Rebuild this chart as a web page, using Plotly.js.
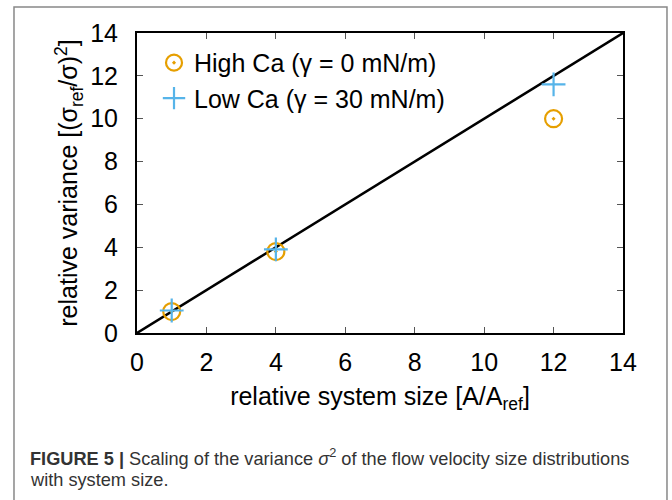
<!DOCTYPE html>
<html>
<head>
<meta charset="utf-8">
<script src="https://cdn.plot.ly/plotly-3.0.1.min.js"></script>
<style>html,body{margin:0;padding:0;background:#fff;}#chart{width:672px;height:500px;}</style>
</head>
<body>
<div id="chart"></div>
<script>
// Data
const systemSize = [1, 4, 12];
const highCaVariance = [1.0, 3.8, 10.0];
const lowCaVariance = [1.05, 3.9, 11.6];
const refLineX = [0, 14];
const refLineY = [0, 14];
const tickVals = [0, 2, 4, 6, 8, 10, 12, 14];
const seriesNames = ["High Ca (γ = 0 mN/m)", "Low Ca (γ = 30 mN/m)"];

const font = "Liberation Sans, Arial, sans-serif";

const traces = [
  {x: refLineX, y: refLineY, mode: "lines", line: {color: "#000", width: 2.5}, showlegend: false, hoverinfo: "skip"},
  {x: systemSize, y: highCaVariance, mode: "markers", name: seriesNames[0],
   marker: {symbol: "circle-open-dot", size: 17, color: "#E69F00", line: {width: 2.2, color: "#E69F00"}}},
  {x: systemSize, y: lowCaVariance, mode: "markers", name: seriesNames[1],
   marker: {symbol: "cross-thin-open", size: 17, color: "#56B4E9", line: {width: 2.2, color: "#56B4E9"}}}
];

const axisCommon = {
  range: [0, 14], tickvals: tickVals, ticks: "inside", ticklen: 6, tickwidth: 1, tickcolor: "#555",
  showline: true, linecolor: "#000", linewidth: 2, mirror: "ticks", showgrid: false, zeroline: false,
  tickfont: {family: font, size: 25, color: "#000"}
};

const layout = {
  width: 672, height: 500,
  margin: {l: 137, r: 49, t: 33, b: 167},
  paper_bgcolor: "#fff", plot_bgcolor: "#fff",
  showlegend: true,
  legend: {x: 0.035, y: 0.977, xanchor: "left", yanchor: "top", bgcolor: "rgba(0,0,0,0)",
           font: {family: font, size: 25, color: "#000"}, tracegroupgap: 0, itemwidth: 30},
  xaxis: Object.assign({}, axisCommon, {
    ticklabelstandoff: 6,
    title: {text: "relative system size [A/A<sub>ref</sub>]", font: {family: font, size: 25, color: "#000"}, standoff: 12}
  }),
  yaxis: Object.assign({}, axisCommon, {
    ticklabelstandoff: 12,
    title: {text: "relative variance [(σ<sub>ref</sub>/σ)<sup>2</sup>]", font: {family: font, size: 25, color: "#000"}, standoff: 5}
  }),
  shapes: [
    {type: "rect", xref: "paper", yref: "paper", x0: -0.2531, x1: 1.0905, y0: -0.6, y1: 1.0867,
     line: {color: "#888", width: 1.5}, fillcolor: "rgba(0,0,0,0)", layer: "below"}
  ],
  annotations: [
    {xref: "paper", yref: "paper", x: -0.2243, y: -0.4133, xanchor: "left", yanchor: "middle", align: "left",
     showarrow: false,
     text: "<b>FIGURE 5 |</b> Scaling of the variance <i>σ</i><sup>2</sup> of the flow velocity size distributions",
     font: {family: font, size: 18.2, color: "#333"}},
    {xref: "paper", yref: "paper", x: -0.2243, y: -0.49, xanchor: "left", yanchor: "middle", align: "left",
     showarrow: false,
     text: "with system size.",
     font: {family: font, size: 18.2, color: "#333"}}
  ]
};

Plotly.newPlot("chart", traces, layout, {displayModeBar: false, staticPlot: true});
</script>
</body>
</html>
